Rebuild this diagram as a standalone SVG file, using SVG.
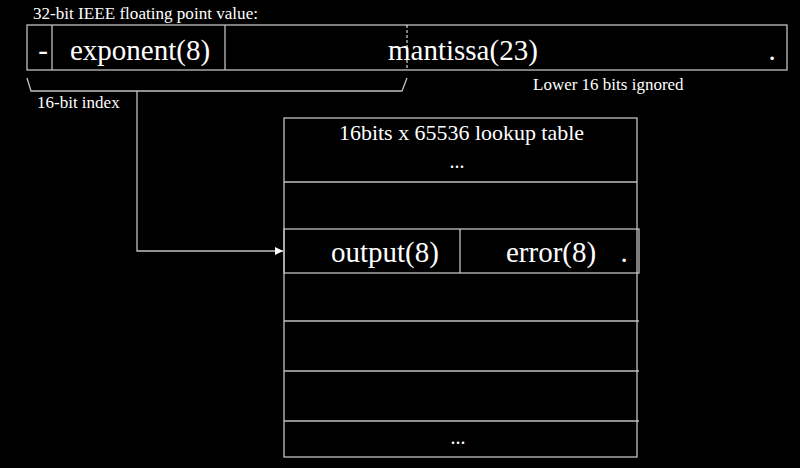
<svg xmlns="http://www.w3.org/2000/svg" width="800" height="468" viewBox="0 0 800 468">
<style>
.ln{stroke:#c0c0c0;stroke-width:1.3;fill:none}
.t{font-family:"Liberation Serif","Times New Roman",serif;fill:#fff}
.big{font-size:29px}
.sm{font-size:17px}
.md{font-size:17px}
</style>
<defs>
<marker id="ah" viewBox="0 0 10 10" refX="10" refY="5" markerWidth="10" markerHeight="8" markerUnits="userSpaceOnUse" orient="auto">
<path d="M0,0 L10,5 L0,10 Z" fill="#fff"/>
</marker>
</defs>
<rect width="800" height="468" fill="#000"/>
<g id="float-value">
<text class="t sm" x="33" y="19" textLength="225" lengthAdjust="spacingAndGlyphs">32-bit IEEE floating point value:</text>
<rect class="ln" x="27" y="25" width="760" height="45"/>
<line class="ln" x1="52" y1="25" x2="52" y2="70"/>
<line class="ln" x1="225" y1="25" x2="225" y2="70"/>
<line x1="407" y1="25" x2="407" y2="70" stroke="#fff" stroke-width="1" stroke-dasharray="3,2"/>
<text class="t big" x="43" y="60" text-anchor="middle">-</text>
<text class="t big" x="70" y="60">exponent(8)</text>
<text class="t big" x="388" y="60">mantissa(23)</text>
<text class="t big" x="772" y="60" text-anchor="middle">.</text>
<text class="t md" x="533" y="90">Lower 16 bits ignored</text>
</g>
<g id="index-bracket">
<polyline class="ln" points="27,78 31,91 402,91 407,78"/>
<text class="t md" x="37" y="108">16-bit index</text>
</g>
<g id="connectors">
<polyline class="ln" points="137,91 137,251 283,251" marker-end="url(#ah)"/>
</g>
<g id="lookup-table">
<rect class="ln" x="284" y="118" width="353" height="339"/>
<text class="t" font-size="21" x="339" y="140" textLength="245" lengthAdjust="spacingAndGlyphs">16bits x 65536 lookup table</text>
<text class="t" font-size="20" x="457" y="168" text-anchor="middle">...</text>
<line class="ln" x1="284" y1="182" x2="637" y2="182"/>
<line class="ln" x1="284" y1="321" x2="639" y2="321"/>
<line class="ln" x1="284" y1="371" x2="639" y2="371"/>
<line class="ln" x1="284" y1="421" x2="639" y2="421"/>
<text class="t" font-size="20" x="458" y="444" text-anchor="middle">...</text>
</g>
<g id="output-row">
<rect class="ln" x="284" y="229" width="355" height="44"/>
<line class="ln" x1="460" y1="229" x2="460" y2="273"/>
<text class="t big" x="331" y="262">output(8)</text>
<text class="t big" x="506" y="262">error(8)</text>
<text class="t big" x="624" y="262" text-anchor="middle">.</text>
</g>
</svg>
